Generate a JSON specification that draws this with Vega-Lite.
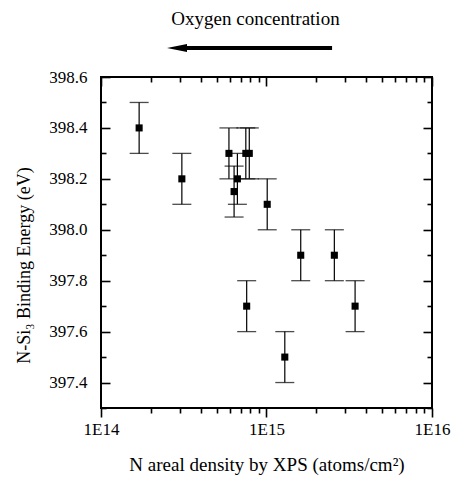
{
  "$schema": "https://vega.github.io/schema/vega-lite/v6.json",
  "width": 331,
  "height": 331,
  "autosize": "none",
  "padding": {"left": 101, "top": 77, "right": 22, "bottom": 73},
  "background": "white",
  "title": {"text": "Oxygen concentration", "font": "Liberation Serif", "fontSize": 19, "fontWeight": "normal", "color": "black", "anchor": "middle", "offset": 15, "dx": -11},
  "config": {
    "view": {"stroke": "black", "strokeWidth": 2},
    "axis": {"labelFont": "Liberation Serif", "titleFont": "Liberation Serif", "labelFontSize": 17, "titleFontSize": 19, "titleFontWeight": "normal", "labelColor": "black", "titleColor": "black", "tickColor": "black", "tickWidth": 1.6, "domain": false, "grid": false, "labelFlush": false, "labelOverlap": false}
  },
  "datasets": {
    "pts": [
      {"n": 1.70e14, "e": 398.4, "lo": 398.3, "hi": 398.5},
      {"n": 3.08e14, "e": 398.2, "lo": 398.1, "hi": 398.3},
      {"n": 5.93e14, "e": 398.3, "lo": 398.2, "hi": 398.4},
      {"n": 6.37e14, "e": 398.15, "lo": 398.05, "hi": 398.25},
      {"n": 6.67e14, "e": 398.2, "lo": 398.1, "hi": 398.3},
      {"n": 7.50e14, "e": 398.3, "lo": 398.2, "hi": 398.4},
      {"n": 7.87e14, "e": 398.3, "lo": 398.2, "hi": 398.4},
      {"n": 1.01e15, "e": 398.1, "lo": 398.0, "hi": 398.2},
      {"n": 7.59e14, "e": 397.7, "lo": 397.6, "hi": 397.8},
      {"n": 1.29e15, "e": 397.5, "lo": 397.4, "hi": 397.6},
      {"n": 1.61e15, "e": 397.9, "lo": 397.8, "hi": 398.0},
      {"n": 2.57e15, "e": 397.9, "lo": 397.8, "hi": 398.0},
      {"n": 3.43e15, "e": 397.7, "lo": 397.6, "hi": 397.8}
    ],
    "arrow": [{"x0": 2.88e14, "x1": 2.49e15, "y": 398.714}]
  },
  "resolve": {"axis": {"x": "independent", "y": "independent"}},
  "layer": [
    {
      "data": {"name": "pts"},
      "mark": {"type": "rule", "color": "black", "strokeWidth": 1.2},
      "encoding": {
        "x": {"field": "n", "type": "quantitative", "scale": {"type": "log", "domain": [1e14, 1e16], "nice": false},
              "axis": {"orient": "bottom", "values": [1e14, 1e15, 1e16], "labelExpr": "'1E' + round(log(datum.value)/LN10)", "tickSize": 9, "labelPadding": 4, "title": "N areal density by XPS (atoms/cm²)", "titlePadding": 18}},
        "y": {"field": "lo", "type": "quantitative", "scale": {"domain": [397.3, 398.6], "nice": false, "zero": false},
              "axis": {"orient": "left", "values": [397.4, 397.6, 397.8, 398.0, 398.2, 398.4, 398.6], "format": ".1f", "tickSize": -9, "labelPadding": 23, "title": "N-Si₃ Binding Energy (eV)", "titlePadding": 15, "titleFontSize": 18, "titleY": 188}},
        "y2": {"field": "hi"}
      }
    },
    {
      "data": {"name": "pts"},
      "mark": {"type": "tick", "orient": "horizontal", "color": "black", "size": 19, "thickness": 1.3},
      "encoding": {
        "x": {"field": "n", "type": "quantitative", "scale": {"type": "log", "domain": [1e14, 1e16], "nice": false},
              "axis": {"orient": "bottom", "values": [2e14, 3e14, 4e14, 5e14, 6e14, 7e14, 8e14, 9e14, 2e15, 3e15, 4e15, 5e15, 6e15, 7e15, 8e15, 9e15], "labels": false, "tickSize": 5, "title": null}},
        "y": {"field": "lo", "type": "quantitative", "scale": {"domain": [397.3, 398.6], "nice": false, "zero": false},
              "axis": {"orient": "left", "values": [397.3, 397.5, 397.7, 397.9, 398.1, 398.3, 398.5], "labels": false, "tickSize": -5, "title": null}}
      }
    },
    {
      "data": {"name": "pts"},
      "mark": {"type": "tick", "orient": "horizontal", "color": "black", "size": 19, "thickness": 1.3},
      "encoding": {
        "x": {"field": "n", "type": "quantitative", "scale": {"type": "log", "domain": [1e14, 1e16], "nice": false},
              "axis": {"orient": "top", "values": [1e14, 1e15, 1e16], "labels": false, "tickSize": -9, "title": null}},
        "y": {"field": "hi", "type": "quantitative", "scale": {"domain": [397.3, 398.6], "nice": false, "zero": false},
              "axis": {"orient": "right", "values": [397.4, 397.6, 397.8, 398.0, 398.2, 398.4, 398.6], "labels": false, "tickSize": -9, "title": null}}
      }
    },
    {
      "data": {"name": "pts"},
      "mark": {"type": "point", "shape": "square", "filled": true, "color": "black", "opacity": 1, "size": 50},
      "encoding": {
        "x": {"field": "n", "type": "quantitative", "scale": {"type": "log", "domain": [1e14, 1e16], "nice": false},
              "axis": {"orient": "top", "values": [2e14, 3e14, 4e14, 5e14, 6e14, 7e14, 8e14, 9e14, 2e15, 3e15, 4e15, 5e15, 6e15, 7e15, 8e15, 9e15], "labels": false, "tickSize": -5, "title": null}},
        "y": {"field": "e", "type": "quantitative", "scale": {"domain": [397.3, 398.6], "nice": false, "zero": false},
              "axis": {"orient": "right", "values": [397.3, 397.5, 397.7, 397.9, 398.1, 398.3, 398.5], "labels": false, "tickSize": -5, "title": null}}
      }
    },
    {
      "data": {"name": "arrow"},
      "mark": {"type": "rule", "color": "black", "strokeWidth": 4, "clip": false},
      "encoding": {
        "x": {"field": "x0", "type": "quantitative", "scale": {"type": "log", "domain": [1e14, 1e16], "nice": false}, "axis": null},
        "x2": {"field": "x1"},
        "y": {"field": "y", "type": "quantitative", "scale": {"domain": [397.3, 398.6], "nice": false, "zero": false}, "axis": null}
      }
    },
    {
      "data": {"name": "arrow"},
      "mark": {"type": "point", "shape": "M -1 0 L 1 -0.4 L 1 0.4 Z", "filled": true, "color": "black", "opacity": 1, "size": 400, "clip": false},
      "encoding": {
        "x": {"field": "x0", "type": "quantitative", "scale": {"type": "log", "domain": [1e14, 1e16], "nice": false}, "axis": null},
        "y": {"field": "y", "type": "quantitative", "scale": {"domain": [397.3, 398.6], "nice": false, "zero": false}, "axis": null}
      }
    }
  ]
}
